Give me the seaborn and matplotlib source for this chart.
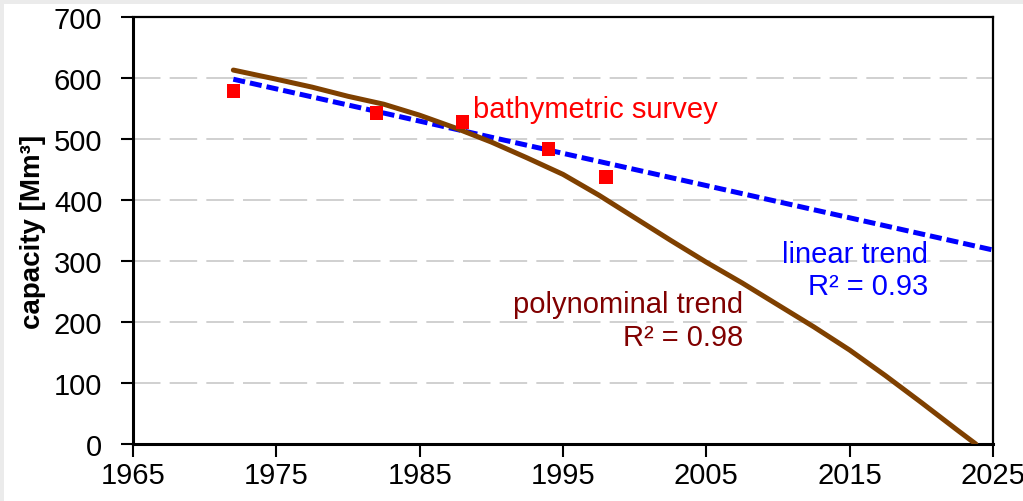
import numpy as np
import pandas as pd
import matplotlib
matplotlib.use('Agg')
import matplotlib.pyplot as plt
from matplotlib.patches import Rectangle
import seaborn as sns

#%% data
survey_year     = [1972, 1982, 1988, 1994, 1998]
survey_capacity = [579, 543, 528, 484, 438]

linear_year     = [1972, 2025]
linear_capacity = [598, 318]

poly_year       = [1972, 1975, 1977.5, 1980, 1982.5, 1985, 1987.5, 1990, 1992.5, 1995,
                   1997.5, 2000, 2002.5, 2005, 2007.5, 2010, 2012.5, 2015, 2017.5,
                   2020, 2022.5, 2023.8]
poly_capacity   = [613, 598, 585, 570, 557, 539, 518, 495, 469, 442,
                   408, 371, 334, 298, 264, 228, 192, 154, 112,
                   68, 23, 0]

xticks = [1965, 1975, 1985, 1995, 2005, 2015, 2025]
yticks = [0, 100, 200, 300, 400, 500, 600, 700]

#%% style
sns.set_style('white')
plt.rcParams['font.family'] = ['Liberation Sans', 'DejaVu Sans']

df_survey = pd.DataFrame({'year': survey_year, 'capacity': survey_capacity})
df_lin    = pd.DataFrame({'year': linear_year, 'capacity': linear_capacity})
df_poly   = pd.DataFrame({'year': poly_year, 'capacity': poly_capacity})

fig = plt.figure(figsize=(10.23, 5.02), dpi=100, facecolor='#ebebeb')
# white panel (grey strip left + top like the source screenshot)
fig.add_artist(Rectangle((4/1023, 0), 1, 1 - 5/502, transform=fig.transFigure,
                         facecolor='white', edgecolor='none', zorder=-10))
ax = fig.add_axes([133/1023, 1 - 445/502, 860/1023, 427/502])
ax.set_facecolor('white')

# grid lines
for yv in yticks[1:-1]:
    ax.axhline(yv, color='#c4c4c4', lw=1.1, dashes=(18, 6), zorder=0)

sns.lineplot(data=df_lin, x='year', y='capacity', ax=ax, color='#0000ff',
             lw=3.6, linestyle=(0, (2.4, 1.0)), zorder=3)
sns.lineplot(data=df_poly, x='year', y='capacity', ax=ax, color='#7f4000',
             lw=3.6, zorder=4)
sns.scatterplot(data=df_survey, x='year', y='capacity', ax=ax, marker='s',
                s=95, color='#ff0000', edgecolor='none', zorder=5)

ax.set_xlim(1965, 2025)
ax.set_ylim(0, 700)
ax.set_xticks(xticks)
ax.set_yticks(yticks)
ax.set_xlabel('')
ax.set_ylabel('capacity [Mm³]', fontsize=20, fontweight='bold', labelpad=6,
              color='black')
ax.tick_params(axis='both', labelsize=21, direction='out', length=9, width=1.5,
               color='black', labelcolor='black', left=True, bottom=True)
ax.tick_params(axis='y', pad=13)
ax.tick_params(axis='x', pad=3)

for side in ['left', 'bottom']:
    ax.spines[side].set_linewidth(2.2)
for side in ['top', 'right']:
    ax.spines[side].set_linewidth(1.6)
for sp in ax.spines.values():
    sp.set_color('black')

# annotations
ax.text(1988.7, 549, 'bathymetric survey', color='#ff0000', fontsize=21,
        ha='left', va='center')
ax.text(2020.5, 311, 'linear trend', color='#0000ff', fontsize=21,
        ha='right', va='center')
ax.text(2020.5, 259, 'R² = 0.93', color='#0000ff', fontsize=21,
        ha='right', va='center')
ax.text(2007.6, 229, 'polynominal trend', color='#800000', fontsize=21,
        ha='right', va='center')
ax.text(2007.6, 175, 'R² = 0.98', color='#800000', fontsize=21,
        ha='right', va='center')

fig.savefig('out.png', dpi=100, facecolor=fig.get_facecolor())
